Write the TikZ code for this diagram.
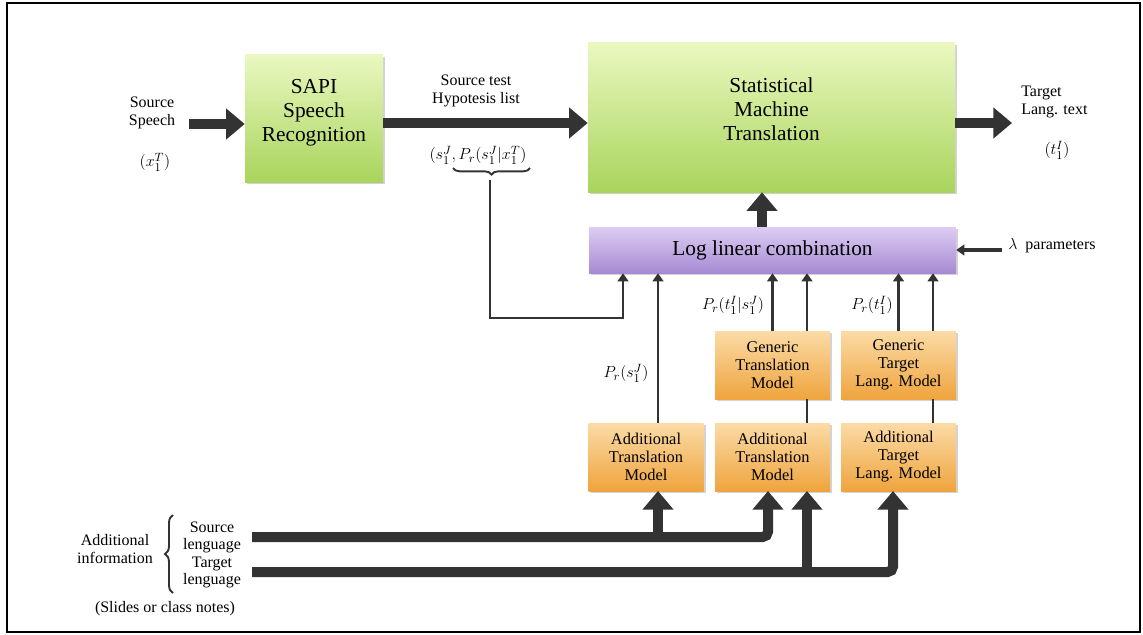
\documentclass[tikz,border=0pt]{standalone}
\usepackage{fontspec}
\setmainfont{Liberation Serif}
\usetikzlibrary{arrows.meta,shadows,decorations.pathreplacing,calc}
\definecolor{arr}{HTML}{333333}
\definecolor{gtop}{HTML}{EAF8C0}
\definecolor{gbot}{HTML}{A9D45C}
\definecolor{ptop}{HTML}{DDCDF3}
\definecolor{pbot}{HTML}{A68AD3}
\definecolor{otop}{HTML}{FBDBA6}
\definecolor{obot}{HTML}{EFA43E}
\begin{document}
\begin{tikzpicture}[x=0.75pt,y=-0.75pt,
  box/.style={draw=none, align=center, inner sep=0pt,
    drop shadow={shadow xshift=1.5pt,shadow yshift=-1.5pt,opacity=0.35}},
  greenbox/.style={box, top color=gtop, bottom color=gbot, font=\fontsize{16}{18}\selectfont, text depth=12pt},
  purplebox/.style={box, top color=ptop, bottom color=pbot, font=\fontsize{16}{18}\selectfont},
  orangebox/.style={box, top color=otop, bottom color=obot, font=\fontsize{12.3}{13.5}\selectfont,
    minimum width=86.25pt, minimum height=51pt},
  lbl/.style={align=center, inner sep=0pt, font=\fontsize{12}{13}\selectfont},
  mlbl/.style={align=center, inner sep=0pt, font=\fontsize{13}{14}\selectfont},
  bigarrow/.style={draw=arr, line width=7.5pt, -{Triangle[width=22.5pt,length=14pt]}},
  thinarrow/.style={draw=arr, line width=2.2pt, -{Triangle[width=8pt,length=6pt]}},
  bracestyle/.style={draw=arr, line width=1.4pt, decorate}
]
\useasboundingbox (0,0) rectangle (1143,635);
\draw[line width=1.5pt] (7,3) rectangle (1140,632);

% boxes
\node[greenbox, minimum width=103.5pt, minimum height=95.25pt] (sapi) at (314,118.5) {SAPI\\Speech\\Recognition};
\node[greenbox, minimum width=275.25pt, minimum height=111.75pt] (smt) at (771.5,117.5) {Statistical\\Machine\\Translation};
\node[purplebox, minimum width=275.25pt, minimum height=34.5pt] (llc) at (772.5,250) {Log linear combination};
\node[orangebox] (gtm) at (772.5,365) {Generic\\Translation\\Model};
\node[orangebox] (gtlm) at (898.5,365) {Generic\\Target\\Lang. Model};
\node[orangebox] (atm1) at (646,457) {Additional\\Translation\\Model};
\node[orangebox] (atm2) at (772.5,457) {Additional\\Translation\\Model};
\node[orangebox] (atlm) at (898.5,457) {Additional\\Target\\Lang. Model};

% labels
\node[lbl] (srcsp) at (152,113) {Source\\Speech};
\node[mlbl] (xT) at (155,162) {$(x_1^T)$};
\node[lbl] (hyp) at (476,91) {Source test\\Hypotesis list};
\node[mlbl] (shyp) at (478,155) {$(s_1^J, P_r(s_1^J|x_1^T)$};
\node[lbl, align=left, anchor=west] (tgt) at (1021,102) {Target\\Lang. text};
\node[mlbl] (tI) at (1057,150) {$(t_1^I)$};
\node[lbl, anchor=west] (lam) at (1008,246) {$\lambda$\ \ parameters};
\node[mlbl] (p1) at (626,373) {$P_r(s_1^J)$};
\node[mlbl] (p2) at (733,305) {$P_r(t_1^I|s_1^J)$};
\node[mlbl] (p3) at (872,305) {$P_r(t_1^I)$};
\node[lbl] (addinfo) at (115,549) {Additional\\information};
\node[lbl] (langs) at (212,555) {Source\\lenguage\\Target\\lenguage};
\node[lbl] (slides) at (165,609) {(Slides or class notes)};

% braces
\draw[bracestyle, decoration={brace, amplitude=5pt}] (530,168) -- (453,168);
\draw[bracestyle, decoration={brace, amplitude=6pt}] (173,593) -- (173,515);

% coordinates
\coordinate (ssin) at (189,124);
\coordinate (hy) at (383,123);
\coordinate (out) at (1012,123);
\coordinate (up) at (762,227);
\coordinate (lamin) at (1002,250);
\coordinate (bt) at (490,180);
\coordinate (fb1) at (490,318);
\coordinate (fb2) at (623,318);
\coordinate (a1t) at (658,423);
\coordinate (a2t) at (807,423);
\coordinate (a3t) at (933,423);
\coordinate (sl) at (252,537);
\coordinate (tl) at (252,572);
\coordinate (s1) at (658,491);
\coordinate (s2) at (768,491);
\coordinate (t1) at (807,491);
\coordinate (t2) at (893,491);

% thick arrows top
\draw[bigarrow] (ssin) -- (ssin -| sapi.west);
\draw[bigarrow] (hy) -- (hy -| smt.west);
\draw[bigarrow] (out -| smt.east) -- (out);
\draw[bigarrow] (up) -- (up |- smt.south);
\draw[thinarrow, line width=2.6pt] (lamin) -- (lamin -| llc.east);

% thin arrows into log linear combination
\draw[thinarrow] (bt) -- (fb1) -- (fb2) -- (fb2 |- llc.south);
\draw[thinarrow] (a1t) -- (a1t |- llc.south);
\draw[thinarrow] (gtm.north) -- (gtm.north |- llc.south);
\draw[draw=arr, line width=2.2pt] (a2t) -- (a2t |- gtm.south);
\draw[thinarrow] (a2t |- gtm.north) -- (a2t |- llc.south);
\draw[thinarrow] (gtlm.north) -- (gtlm.north |- llc.south);
\draw[draw=arr, line width=2.2pt] (a3t) -- (a3t |- gtlm.south);
\draw[thinarrow] (a3t |- gtlm.north) -- (a3t |- llc.south);

% bottom thick arrows
\draw[bigarrow, rounded corners=4pt] (sl) -| (s2);
\draw[bigarrow] (s1 |- sl) -- (s1);
\draw[bigarrow, rounded corners=4pt] (tl) -| (t2);
\draw[bigarrow] (t1 |- tl) -- (t1);
\end{tikzpicture}
\end{document}
